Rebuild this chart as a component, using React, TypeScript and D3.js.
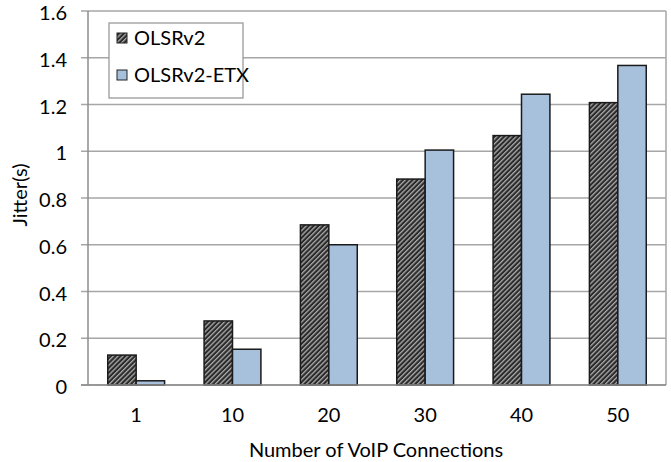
import React from "react";
import * as d3 from "d3";

const categories = ["1", "10", "20", "30", "40", "50"];
const seriesNames = ["OLSRv2", "OLSRv2-ETX"];
const olsrv2 = [0.128, 0.274, 0.685, 0.881, 1.067, 1.208];
const olsrv2Etx = [0.018, 0.153, 0.6, 1.005, 1.244, 1.367];
const yTicks = [0, 0.2, 0.4, 0.6, 0.8, 1, 1.2, 1.4, 1.6];

const W = 671;
const H = 462;
const left = 88;
const right = 666;
const top = 11;
const bottom = 385;
const FONT = "Lato, 'Open Sans', sans-serif";
const FS = 20;

export default function App() {
  const x = d3
    .scaleBand<string>()
    .domain(categories)
    .range([left, right])
    .paddingInner(0.41)
    .paddingOuter(0.205);
  const x1 = d3
    .scaleBand<string>()
    .domain(seriesNames)
    .range([0, x.bandwidth()]);
  const y = d3.scaleLinear().domain([0, 1.6]).range([bottom, top]);
  const values = [olsrv2, olsrv2Etx];
  const fills = ["url(#hatch)", "#a7c0dc"];

  return (
    <svg
      width={W}
      height={H}
      style={{ position: "absolute", left: 0, top: 0, background: "#fff" }}
    >
      <defs>
        <pattern
          id="hatch"
          patternUnits="userSpaceOnUse"
          width={3.4}
          height={3.4}
          patternTransform="rotate(45)"
        >
          <rect width={3.4} height={3.4} fill="#2a2a2a" />
          <rect x={0} width={1.3} height={3.4} fill="#acacac" />
        </pattern>
      </defs>
      {yTicks.map((t) => (
        <line
          key={"g" + t}
          x1={left - 7}
          x2={right}
          y1={y(t)}
          y2={y(t)}
          stroke="#a6a6a6"
          strokeWidth={1.5}
        />
      ))}
      <line x1={right} x2={right} y1={top} y2={bottom} stroke="#a6a6a6" strokeWidth={1.5} />
      <line x1={left} x2={left} y1={top} y2={bottom} stroke="#8c8c8c" strokeWidth={1.5} />
      {yTicks.map((t) => (
        <text
          key={"t" + t}
          x={67}
          y={y(t)}
          dy="0.45em"
          textAnchor="end"
          fontFamily={FONT}
          fontSize={FS}
          fill="#000"
        >
          {String(t)}
        </text>
      ))}
      <rect x={109} y={23} width={134} height={75} fill="#fff" stroke="#9a9a9a" strokeWidth={1.3} />
      {seriesNames.map((s, i) => (
        <g key={s}>
          <rect
            x={117}
            y={33 + i * 37}
            width={10}
            height={10}
            fill={fills[i]}
            stroke="#222"
            strokeWidth={1}
          />
          <text
            x={134}
            y={38 + i * 37}
            dy="0.36em"
            fontFamily={FONT}
            fontSize={FS}
            fill="#000"
          >
            {s}
          </text>
        </g>
      ))}
      {categories.map((c, ci) => (
        <g key={c} transform={`translate(${x(c)},0)`}>
          {seriesNames.map((s, si) => {
            const v = values[si][ci];
            return (
              <rect
                key={s}
                x={x1(s)}
                y={y(v)}
                width={x1.bandwidth()}
                height={y(0) - y(v)}
                fill={fills[si]}
                stroke="#1a1a1a"
                strokeWidth={1.5}
              />
            );
          })}
        </g>
      ))}
      <line x1={left - 7} x2={right} y1={bottom} y2={bottom} stroke="#8c8c8c" strokeWidth={1.5} />
      {categories.map((c) => (
        <text
          key={"x" + c}
          x={(x(c) as number) + x.bandwidth() / 2}
          y={415}
          dy="0.36em"
          textAnchor="middle"
          fontFamily={FONT}
          fontSize={FS}
          fill="#000"
        >
          {c}
        </text>
      ))}
      <text
        x={376}
        y={450}
        dy="0.36em"
        textAnchor="middle"
        fontFamily={FONT}
        fontSize={FS}
        fill="#000"
      >
        Number of VoIP Connections
      </text>
      <text
        transform={`translate(20,${(top + bottom) / 2 - 3}) rotate(-90)`}
        dy="0.36em"
        textAnchor="middle"
        fontFamily={FONT}
        fontSize={FS}
        fill="#000"
      >
        Jitter(s)
      </text>
    </svg>
  );
}
